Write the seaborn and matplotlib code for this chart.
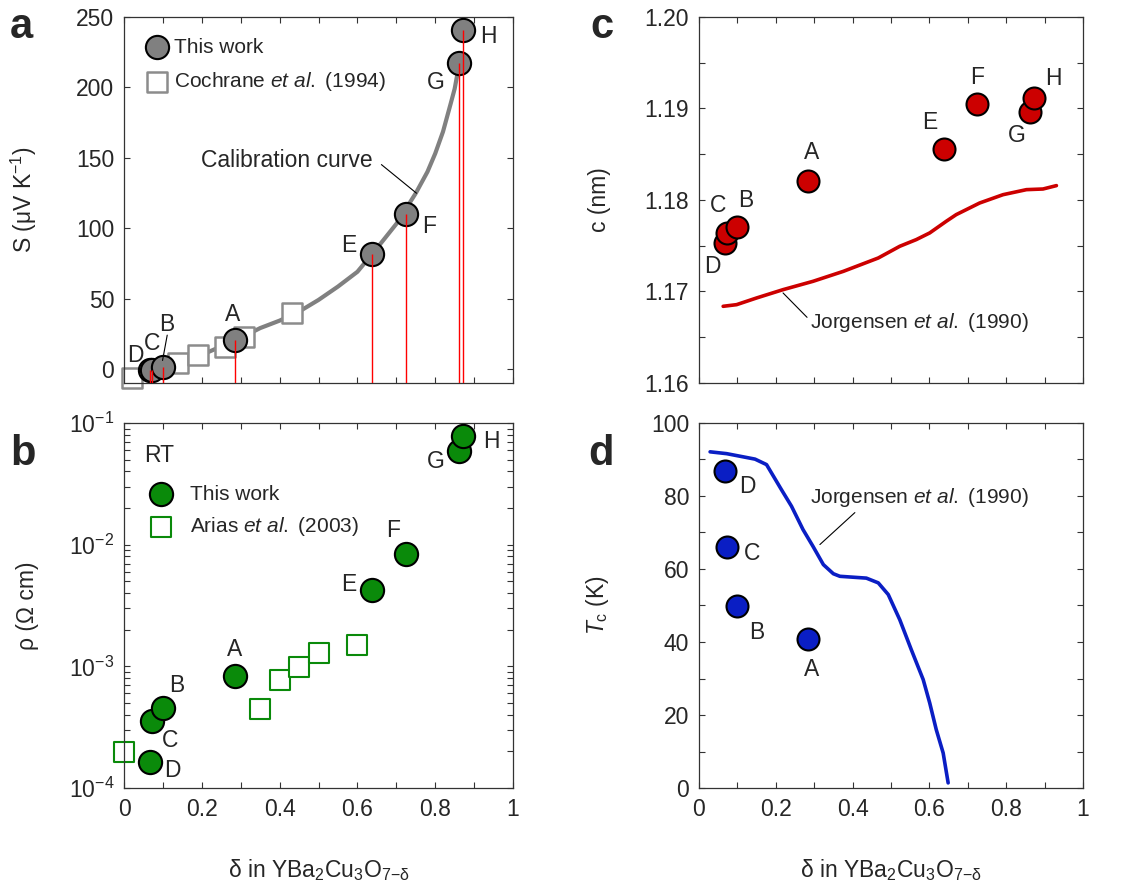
import numpy as np
import pandas as pd
import matplotlib
matplotlib.use("Agg")
import matplotlib.pyplot as plt
from matplotlib.ticker import MultipleLocator, FormatStrFormatter, FuncFormatter
import seaborn as sns

# Sample names and oxygen deficiency delta
names = ["D", "C", "B", "A", "E", "F", "G", "H"]
delta = [0.068, 0.072, 0.099, 0.285, 0.638, 0.724, 0.861, 0.872]

# (a) thermopower S (uV/K)
S_this = [-1, -1, 1, 20.6, 81.7, 110, 217.5, 240.8]
delta_cochrane = [0.021, 0.138, 0.189, 0.26, 0.309, 0.431]
S_cochrane = [-6.2, 4.5, 10, 15.8, 23, 39.5]
delta_cal = [0.02, 0.1, 0.2, 0.3, 0.35, 0.4, 0.45, 0.5, 0.55, 0.6, 0.65, 0.7,
             0.75, 0.78, 0.8, 0.82, 0.84, 0.85, 0.862]
S_cal = [-6, 2, 10, 22, 29, 34.3, 40.7, 49, 58.5, 69, 85.7, 103,
         124.8, 140, 153, 168.5, 188.7, 199, 217]

# (b) room temperature resistivity (Ohm cm)
rho_this = [1.63e-4, 3.57e-4, 4.55e-4, 8.28e-4, 4.27e-3, 8.37e-3, 0.0585, 0.0777]
delta_arias = [0.0, 0.35, 0.4, 0.45, 0.5, 0.6]
rho_arias = [1.96e-4, 4.46e-4, 7.67e-4, 9.9e-4, 1.29e-3, 1.51e-3]

# (c) c-axis length (nm)
c_this = [1.1753, 1.1764, 1.1771, 1.1821, 1.1856, 1.1905, 1.1896, 1.1911]
delta_jc = [0.063, 0.098, 0.150, 0.219, 0.297, 0.376, 0.467, 0.523, 0.566, 0.601,
            0.644, 0.670, 0.731, 0.792, 0.853, 0.896, 0.931]
c_jorg = [1.16838, 1.16856, 1.16929, 1.17020, 1.17111, 1.17220, 1.17366, 1.17494,
          1.17567, 1.17640, 1.17767, 1.17840, 1.17967, 1.18058, 1.18113, 1.18120, 1.18157]

# (d) Tc (K), only D, C, B, A
names_tc = ["D", "C", "B", "A"]
delta_tc = [0.068, 0.072, 0.099, 0.285]
Tc_this = [86.9, 65.9, 49.8, 40.8]
delta_jt = [0.029, 0.072, 0.146, 0.176, 0.215, 0.241, 0.271, 0.297, 0.324, 0.350, 0.367,
            0.436, 0.467, 0.493, 0.523, 0.553, 0.584, 0.601, 0.618, 0.636, 0.649]
Tc_jorg = [92.1, 91.6, 90.1, 88.6, 81.7, 77.2, 70.8, 66.2, 61.2, 58.7, 58.0,
           57.5, 56.2, 53.0, 46.1, 37.9, 29.7, 23.3, 16.0, 9.6, 1.4]

sns.set_theme(style="ticks")
plt.rcParams["font.family"] = ["Liberation Sans", "DejaVu Sans"]
plt.rcParams["mathtext.fontset"] = "custom"
plt.rcParams["mathtext.rm"] = "Liberation Sans"
plt.rcParams["mathtext.it"] = "Liberation Sans:italic"
plt.rcParams["mathtext.bf"] = "Liberation Sans:bold"
plt.rcParams["axes.linewidth"] = 0.9
plt.rcParams["axes.edgecolor"] = "#333333"
plt.rcParams["lines.solid_joinstyle"] = "round"

GRAY = "#808080"
GREEN = "#0a8a0a"
RED = "#cc0000"
BLUE = "#0a1ec4"
FS = 16.5

fig = plt.figure(figsize=(11.38, 8.89), dpi=100)
ax_a = fig.add_axes([0.109, 0.5692, 0.3418, 0.4117])
ax_b = fig.add_axes([0.109, 0.1136, 0.3418, 0.4106])
ax_c = fig.add_axes([0.6142, 0.5692, 0.3374, 0.4117])
ax_d = fig.add_axes([0.6142, 0.1136, 0.3374, 0.4106])

for ax in [ax_a, ax_b, ax_c, ax_d]:
    ax.set_xlim(0, 1)
    ax.xaxis.set_major_locator(MultipleLocator(0.2))
    ax.xaxis.set_minor_locator(MultipleLocator(0.1))
    ax.xaxis.set_major_formatter(FuncFormatter(lambda v, p: f"{v:g}"))
    ax.tick_params(which="both", direction="in", top=True, right=True,
                   length=4, width=0.8, labelsize=FS, pad=7, color="#333333")


def label_points(ax, xs, ys, labels, offsets, fs=FS):
    for x, y, t in zip(xs, ys, labels):
        ax.annotate(t, (x, y), xytext=offsets[t], textcoords="offset points",
                    ha="center", va="center", fontsize=fs, zorder=6)


# ---- panel a ----
sns.lineplot(x=delta_cal, y=S_cal, ax=ax_a, color=GRAY, lw=3, sort=False,
             estimator=None, zorder=1)
sns.scatterplot(x=delta_cochrane, y=S_cochrane, ax=ax_a, marker="s", s=210,
                facecolor="white", edgecolor="#8c8c8c", linewidth=1.8, zorder=2,
                clip_on=False, label=r"Cochrane $\mathit{et\ al.}$ (1994)")
sns.scatterplot(x=delta, y=S_this, ax=ax_a, marker="o", s=280, color=GRAY,
                edgecolor="black", linewidth=1.5, zorder=3, clip_on=False,
                label="This work")
ax_a.vlines(delta, -10, S_this, color="red", lw=1, zorder=4)
ax_a.set_ylim(-10, 250)
ax_a.yaxis.set_major_locator(MultipleLocator(50))
ax_a.tick_params(labelbottom=False)
ax_a.set_ylabel(r"S (μV K$^{-1}$)", fontsize=FS)
ax_a.yaxis.set_label_coords(-0.218, 0.5)
h, l = ax_a.get_legend_handles_labels()
ax_a.legend(h[::-1], l[::-1], loc="upper left", bbox_to_anchor=(0.025, 0.977),
            frameon=False, fontsize=15, handlelength=1.0, handletextpad=0.35,
            labelspacing=0.65, borderaxespad=0.2)
off_a = {"D": (-11, 11), "C": (0, 19), "B": (3, 31), "A": (-2, 18),
         "E": (-17, 6), "F": (17, -9), "G": (-17, -14), "H": (18, -5)}
label_points(ax_a, delta, S_this, names, off_a)
ax_a.annotate("", xy=(delta[2], 6), xytext=(0.111, 24),
              arrowprops=dict(arrowstyle="-", color="black", lw=0.8,
                              shrinkA=0, shrinkB=0), zorder=6)
ax_a.annotate("Calibration curve", xy=(0.752, 124.8), xytext=(0.419, 148.4),
              ha="center", va="center", fontsize=FS,
              arrowprops=dict(arrowstyle="-", color="black", lw=0.8,
                              shrinkA=0, shrinkB=0,
                              relpos=(1.05, 0.3)))

# ---- panel b ----
sns.scatterplot(x=delta_arias, y=rho_arias, ax=ax_b, marker="s", s=210,
                facecolor="white", edgecolor=GREEN, linewidth=1.5, zorder=2,
                clip_on=False, label=r"Arias $\mathit{et\ al.}$ (2003)")
sns.scatterplot(x=delta, y=rho_this, ax=ax_b, marker="o", s=280, color=GREEN,
                edgecolor="black", linewidth=1.5, zorder=3, clip_on=False,
                label="This work")
ax_b.set_yscale("log")
ax_b.set_ylim(1e-4, 1e-1)
ax_b.set_ylabel("ρ (Ω cm)", fontsize=FS)
ax_b.yaxis.set_label_coords(-0.218, 0.5)
ax_b.set_xlabel(r"δ in YBa$_2$Cu$_3$O$_{7\mathrm{-δ}}$", fontsize=FS)
ax_b.xaxis.set_label_coords(0.5, -0.19)
h, l = ax_b.get_legend_handles_labels()
ax_b.legend(h[::-1], l[::-1], loc="upper left", bbox_to_anchor=(0.035, 0.865),
            frameon=False, fontsize=15, handlelength=1.0, handletextpad=0.9,
            labelspacing=0.55, borderaxespad=0.2)
ax_b.text(0.091, 0.912, "RT", transform=ax_b.transAxes, ha="center",
          va="center", fontsize=FS)
off_b = {"B": (10, 16), "C": (13, -14), "D": (16, -6), "A": (0, 19),
         "E": (-17, 4), "F": (-9, 17), "G": (-17, -7), "H": (20, -4)}
label_points(ax_b, delta, rho_this, names, off_b)

# ---- panel c ----
sns.lineplot(x=delta_jc, y=c_jorg, ax=ax_c, color=RED, lw=2.6, sort=False,
             estimator=None, zorder=1)
sns.scatterplot(x=delta, y=c_this, ax=ax_c, marker="o", s=250, color=RED,
                edgecolor="black", linewidth=1.5, zorder=3)
ax_c.set_ylim(1.16, 1.20)
ax_c.yaxis.set_major_locator(MultipleLocator(0.01))
ax_c.yaxis.set_minor_locator(MultipleLocator(0.005))
ax_c.yaxis.set_major_formatter(FormatStrFormatter("%.2f"))
ax_c.tick_params(labelbottom=False)
ax_c.set_ylabel("c (nm)", fontsize=FS)
ax_c.yaxis.set_label_coords(-0.229, 0.5)
off_c = {"C": (-6, 20), "B": (6, 19), "D": (-9, -17), "A": (2, 20),
         "E": (-10, 19), "F": (0, 19), "G": (-9, -17), "H": (14, 14)}
label_points(ax_c, delta, c_this, names, off_c)
ax_c.annotate(r"Jorgensen $\mathit{et\ al.}$ (1990)", xy=(0.219, 1.16984),
              xytext=(0.575, 1.16656), ha="center", va="center", fontsize=15,
              arrowprops=dict(arrowstyle="-", color="black", lw=0.8,
                              shrinkA=0, shrinkB=0, relpos=(0.0, 0.6)))

# ---- panel d ----
sns.lineplot(x=delta_jt, y=Tc_jorg, ax=ax_d, color=BLUE, lw=2.6, sort=False,
             estimator=None, zorder=1)
sns.scatterplot(x=delta_tc, y=Tc_this, ax=ax_d, marker="o", s=250, color=BLUE,
                edgecolor="black", linewidth=1.5, zorder=3)
ax_d.set_ylim(0, 100)
ax_d.yaxis.set_major_locator(MultipleLocator(20))
ax_d.yaxis.set_minor_locator(MultipleLocator(10))
ax_d.set_ylabel(r"$T_{\mathrm{c}}$ (K)", fontsize=FS)
ax_d.yaxis.set_label_coords(-0.229, 0.5)
ax_d.set_xlabel(r"δ in YBa$_2$Cu$_3$O$_{7\mathrm{-δ}}$", fontsize=FS)
ax_d.xaxis.set_label_coords(0.5, -0.19)
off_d = {"D": (16, -11), "C": (18, -4), "B": (14, -19), "A": (2, -22)}
label_points(ax_d, delta_tc, Tc_this, names_tc, off_d)
ax_d.annotate(r"Jorgensen $\mathit{et\ al.}$ (1990)", xy=(0.315, 66.7),
              xytext=(0.575, 79.5), ha="center", va="center", fontsize=15,
              arrowprops=dict(arrowstyle="-", color="black", lw=0.8,
                              shrinkA=0, shrinkB=0, relpos=(0.22, 0.0)))

# panel letters
for x, y, t in [(0.0088, 0.957, "a"), (0.0088, 0.477, "b"),
                (0.5185, 0.957, "c"), (0.5167, 0.477, "d")]:
    fig.text(x, y, t, fontsize=30, fontweight="bold", ha="left", va="baseline")

fig.savefig("out.png", dpi=100)
